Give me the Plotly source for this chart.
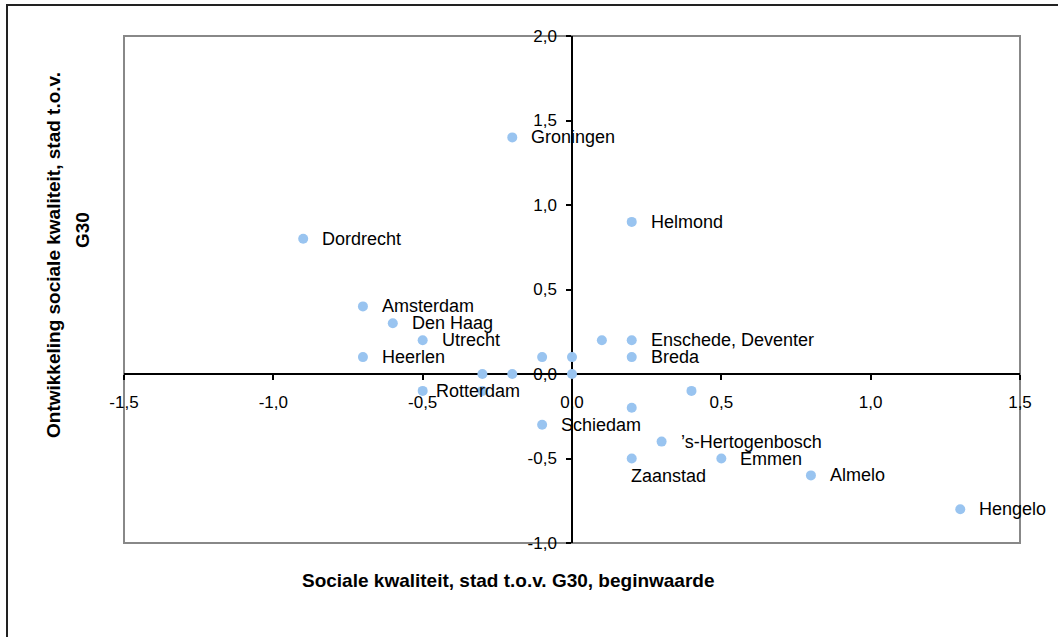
import plotly.graph_objects as go

# City names (empty string = unlabelled point)
cities = ["Dordrecht", "Groningen", "Helmond", "Amsterdam", "Den Haag", "Utrecht",
          "Heerlen", "", "", "", "", "", "", "Enschede, Deventer", "Breda",
          "Rotterdam", "", "", "", "Schiedam", "\u2019s-Hertogenbosch", "Zaanstad",
          "Emmen", "Almelo", "Hengelo"]
# Social quality vs G30, starting value
start_value = [-0.9, -0.2, 0.2, -0.7, -0.6, -0.5, -0.7, -0.3, -0.2, -0.1, 0.0, 0.0,
               0.1, 0.2, 0.2, -0.5, -0.3, 0.2, 0.4, -0.1, 0.3, 0.2, 0.5, 0.8, 1.3]
# Development of social quality vs G30
development = [0.8, 1.4, 0.9, 0.4, 0.3, 0.2, 0.1, 0.0, 0.0, 0.1, 0.1, 0.0,
               0.2, 0.2, 0.1, -0.1, -0.1, -0.2, -0.1, -0.3, -0.4, -0.5, -0.5, -0.6, -0.8]

x_ticks = [-1.5, -1.0, -0.5, 0.0, 0.5, 1.0, 1.5]
x_tick_text = ["-1,5", "-1,0", "-0,5", "0,0", "0,5", "1,0", "1,5"]
y_ticks = [-1.0, -0.5, 0.0, 0.5, 1.0, 1.5, 2.0]
y_tick_text = ["-1,0", "-0,5", "0,0", "0,5", "1,0", "1,5", "2,0"]

FONT = "Liberation Sans, Arial, sans-serif"
W, H = 1058, 637
L, R, T, B = 124, 38, 36, 94
PW, PH = W - L - R, H - T - B


def px_to_paper(px, py):
    return (px - L) / PW, (H - B - py) / PH


fig = go.Figure()
fig.add_trace(go.Scatter(
    x=start_value, y=development, mode="markers",
    marker=dict(color="#99C4F0", size=10, line=dict(width=0)),
    hoverinfo="skip", showlegend=False,
))

# Point labels: right of the marker, with a couple of special placements
label_shift = {"Rotterdam": (11, 0), "Zaanstad": (-3, -17)}
annotations = []
for name, xv, yv in zip(cities, start_value, development):
    if not name:
        continue
    dx, dy = label_shift.get(name, (17, 0))
    annotations.append(dict(
        x=xv, y=yv, xref="x", yref="y", text=name, showarrow=False,
        xanchor="left", yanchor="middle", xshift=dx, yshift=dy,
        font=dict(family=FONT, size=18, color="black"),
    ))

# Axis titles
tx, ty = px_to_paper(508, 580)
annotations.append(dict(
    x=tx, y=ty, xref="paper", yref="paper", showarrow=False,
    text="<b>Sociale kwaliteit, stad t.o.v. G30, beginwaarde</b>",
    xanchor="center", yanchor="middle",
    font=dict(family=FONT, size=19, color="black"),
))
for text, (px, py) in [("Ontwikkeling sociale kwaliteit, stad t.o.v.", (53, 255)),
                       ("G30", (83, 230))]:
    ax_, ay_ = px_to_paper(px, py)
    annotations.append(dict(
        x=ax_, y=ay_, xref="paper", yref="paper", showarrow=False,
        text="<b>" + text + "</b>", textangle=-90,
        xanchor="center", yanchor="middle",
        font=dict(family=FONT, size=19, color="black"),
    ))

# Plot-area frame and outer chart frame
ox0, oy1 = px_to_paper(7, 5)
ox1, oy0 = px_to_paper(1080, 660)
shapes = [
    dict(type="rect", xref="paper", yref="paper", x0=0, x1=1, y0=0, y1=1,
         line=dict(color="#888888", width=2), layer="below"),
    dict(type="rect", xref="paper", yref="paper", x0=ox0, x1=ox1, y0=oy0, y1=oy1,
         line=dict(color="#222222", width=2), layer="below"),
]

fig.update_layout(
    width=W, height=H, autosize=False,
    margin=dict(l=L, r=R, t=T, b=B),
    paper_bgcolor="white", plot_bgcolor="white",
    font=dict(family=FONT, size=17, color="black"),
    annotations=annotations, shapes=shapes,
    xaxis=dict(
        range=[-1.5, 1.5], anchor="free", position=1 / 3,
        showgrid=False, zeroline=False,
        showline=True, linecolor="black", linewidth=1.5,
        ticks="outside", ticklen=5, tickwidth=1.5, tickcolor="black",
        tickvals=x_ticks, ticktext=x_tick_text, ticklabelstandoff=8,
        tickfont=dict(family=FONT, size=17, color="black"),
        layer="below traces",
    ),
    yaxis=dict(
        range=[-1.0, 2.0], anchor="free", position=0.5,
        showgrid=False, zeroline=False,
        showline=True, linecolor="black", linewidth=1.5,
        ticks="outside", ticklen=5, tickwidth=1.5, tickcolor="black",
        tickvals=y_ticks, ticktext=y_tick_text, ticklabelstandoff=6,
        tickfont=dict(family=FONT, size=17, color="black"),
        layer="below traces",
    ),
)

fig.write_html("out.html")
